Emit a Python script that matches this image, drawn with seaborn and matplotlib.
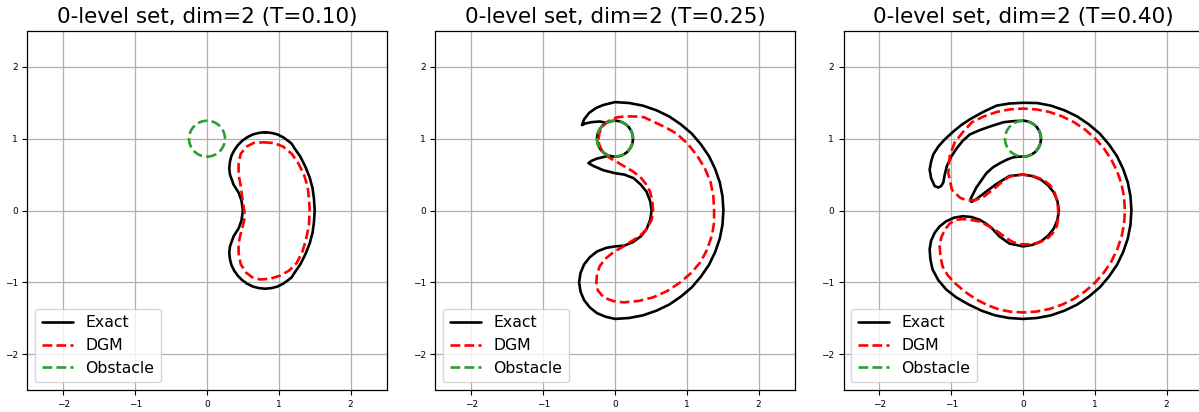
import numpy as np
import pandas as pd
import matplotlib
matplotlib.use("Agg")
import matplotlib.pyplot as plt
import seaborn as sns
from matplotlib.patches import Circle, Arc
from matplotlib.lines import Line2D

sns.set_style("ticks")
plt.rcParams["font.family"] = ["DejaVu Sans"]
plt.rcParams.update({"text.color": "black", "axes.labelcolor": "black",
                     "xtick.color": "black", "ytick.color": "black"})

times = [0.10, 0.25, 0.40]
obstacle_center = (0.0, 1.0)
obstacle_radius = 0.25
# part of the obstacle boundary that is also on the exact 0-level set (degrees)
exact_on_obstacle = [None, (0, 360), (-90, 90)]

# T=0.10 (closed curves)
exact_010_x = [0.81, 0.90, 0.98, 1.06, 1.13, 1.18, 1.21, 1.30, 1.37, 1.43, 1.47, 1.49,
               1.50, 1.49, 1.47, 1.43, 1.37, 1.30, 1.21, 1.18, 1.13, 1.06, 0.98, 0.90,
               0.81, 0.72, 0.64, 0.56, 0.49, 0.43, 0.38, 0.34, 0.32, 0.31, 0.32,
               0.37, 0.44, 0.48, 0.50, 0.48, 0.44, 0.37,
               0.32, 0.31, 0.32, 0.34, 0.38, 0.43, 0.49, 0.56, 0.64, 0.72]
exact_010_y = [1.09, 1.08, 1.06, 1.02, 0.97, 0.93, 0.88, 0.75, 0.61, 0.46, 0.31, 0.16,
               0.00, -0.16, -0.31, -0.46, -0.61, -0.75, -0.88, -0.93, -0.97, -1.02, -1.06, -1.08,
               -1.09, -1.08, -1.06, -1.02, -0.97, -0.91, -0.84, -0.76, -0.68, -0.59, -0.50,
               -0.36, -0.25, -0.14, 0.00, 0.14, 0.25, 0.36,
               0.50, 0.59, 0.68, 0.76, 0.84, 0.91, 0.97, 1.02, 1.06, 1.08]
dgm_010_x = [0.78, 0.93, 1.06, 1.18, 1.27, 1.35, 1.40, 1.42, 1.43, 1.42, 1.38, 1.33, 1.25,
             1.14, 1.01, 0.88, 0.74, 0.63, 0.55, 0.47, 0.44, 0.44, 0.46, 0.49, 0.52, 0.52,
             0.50, 0.47, 0.44, 0.44, 0.47, 0.55, 0.65]
dgm_010_y = [0.95, 0.94, 0.89, 0.79, 0.66, 0.50, 0.34, 0.17, 0.01, -0.20, -0.40, -0.57, -0.73,
             -0.84, -0.91, -0.95, -0.96, -0.93, -0.87, -0.75, -0.59, -0.47, -0.36, -0.25, -0.13, 0.00,
             0.11, 0.34, 0.50, 0.66, 0.79, 0.89, 0.94]

# T=0.25 (exact is open: it ends on the obstacle)
exact_025_x = [-0.12, -0.21, -0.33, -0.42, -0.46, -0.43, -0.36, -0.26, -0.16, 0.00,
               0.197, 0.39, 0.578, 0.755, 0.919, 1.07, 1.198, 1.31, 1.395, 1.46, 1.497, 1.51,
               1.497, 1.46, 1.395, 1.31, 1.198, 1.07, 0.919, 0.755, 0.578, 0.39, 0.197, 0.00,
               -0.13, -0.25, -0.35, -0.43, -0.48, -0.50, -0.48, -0.43, -0.35, -0.25, -0.12,
               0.00, 0.13, 0.25, 0.36, 0.44, 0.49, 0.51, 0.49, 0.44, 0.36, 0.26, 0.13, 0.00,
               -0.16, -0.30, -0.37, -0.33, -0.26, -0.14, -0.085]
exact_025_y = [1.22, 1.24, 1.23, 1.21, 1.19, 1.27, 1.36, 1.43, 1.47, 1.51,
               1.497, 1.46, 1.395, 1.31, 1.198, 1.07, 0.919, 0.755, 0.578, 0.39, 0.197, 0.00,
               -0.197, -0.39, -0.578, -0.755, -0.919, -1.07, -1.198, -1.31, -1.395, -1.46, -1.497, -1.51,
               -1.48, -1.43, -1.35, -1.25, -1.13, -1.00, -0.87, -0.75, -0.65, -0.57, -0.52,
               -0.50, -0.49, -0.44, -0.36, -0.26, -0.13, 0.00, 0.13, 0.26, 0.36, 0.45, 0.50, 0.52,
               0.56, 0.62, 0.66, 0.69, 0.72, 0.75, 0.765]
dgm_025_x = [-0.23, -0.22, -0.19, -0.13, -0.05, 0.04, 0.14, 0.27, 0.40, 0.53, 0.70, 0.86,
             1.01, 1.14, 1.25, 1.33, 1.37, 1.38, 1.38, 1.35, 1.28, 1.19, 1.06, 0.91, 0.73,
             0.53, 0.33, 0.12, -0.03, -0.16, -0.24, -0.26, -0.25, -0.21, -0.12, -0.02, 0.10,
             0.21, 0.34, 0.44, 0.51, 0.53, 0.52, 0.49, 0.43, 0.35, 0.24, 0.12, 0.02, -0.07,
             -0.14, -0.19, -0.22]
dgm_025_y = [0.99, 1.07, 1.15, 1.22, 1.27, 1.30, 1.31, 1.31, 1.30, 1.24, 1.16, 1.07,
             0.93, 0.77, 0.59, 0.40, 0.20, 0.00, -0.17, -0.35, -0.55, -0.72, -0.87, -1.00, -1.12,
             -1.21, -1.26, -1.28, -1.26, -1.21, -1.11, -1.00, -0.88, -0.77, -0.66, -0.58, -0.51,
             -0.44, -0.36, -0.26, -0.13, 0.00, 0.13, 0.26, 0.37, 0.47, 0.55, 0.62, 0.68, 0.73,
             0.79, 0.85, 0.92]

# T=0.40
exact_040_x = [0.00, -0.13, -0.27, -0.46, -0.60, -0.74, -0.84, -0.92, -1.00, -1.06, -1.09,
               -1.11, -1.14, -1.18, -1.23, -1.28, -1.30, -1.28, -1.25, -1.18, -1.09, -0.97,
               -0.86, -0.74, -0.56, -0.37, -0.19, 0.00,
               0.197, 0.39, 0.578, 0.755, 0.919, 1.07, 1.198, 1.31, 1.395, 1.46, 1.497, 1.51,
               1.497, 1.46, 1.395, 1.31, 1.198, 1.07, 0.919, 0.755, 0.578, 0.39, 0.197, 0.00,
               -0.197, -0.39, -0.578, -0.755,
               -0.93, -1.07, -1.18, -1.26, -1.29, -1.30, -1.28, -1.23, -1.16, -1.07, -0.96,
               -0.84, -0.72, -0.60, -0.52, -0.44, -0.33, -0.19,
               0.00, 0.13, 0.25, 0.35, 0.43, 0.48, 0.50, 0.48, 0.43, 0.35, 0.25, 0.13, 0.00,
               -0.19, -0.37, -0.53, -0.66, -0.72, -0.73, -0.70, -0.65, -0.58, -0.51, -0.42,
               -0.32, -0.22, -0.14, -0.06, 0.00]
exact_040_y = [1.25, 1.245, 1.23, 1.17, 1.12, 1.06, 0.97, 0.87, 0.75, 0.62, 0.50,
               0.39, 0.34, 0.32, 0.34, 0.45, 0.57, 0.68, 0.78, 0.89, 0.99, 1.10,
               1.19, 1.27, 1.37, 1.46, 1.49, 1.50,
               1.497, 1.46, 1.395, 1.31, 1.198, 1.07, 0.919, 0.755, 0.578, 0.39, 0.197, 0.00,
               -0.197, -0.39, -0.578, -0.755, -0.919, -1.07, -1.198, -1.31, -1.395, -1.46, -1.497, -1.51,
               -1.497, -1.46, -1.395, -1.31,
               -1.21, -1.10, -0.97, -0.82, -0.68, -0.54, -0.42, -0.31, -0.22, -0.15, -0.10,
               -0.08, -0.09, -0.13, -0.18, -0.24, -0.36, -0.46,
               -0.50, -0.48, -0.43, -0.35, -0.25, -0.13, 0.00, 0.13, 0.25, 0.35, 0.43, 0.48, 0.50,
               0.48, 0.37, 0.25, 0.15, 0.12, 0.16, 0.22, 0.32, 0.42, 0.52, 0.60,
               0.66, 0.71, 0.74, 0.75, 0.75]
dgm_040_x = [-0.74, -0.65, -0.55, -0.46, -0.37, -0.28, -0.19, -0.10, 0.00, 0.14, 0.28, 0.38,
             0.44, 0.48, 0.49, 0.49, 0.47, 0.41, 0.33, 0.21, 0.09, -0.03, -0.14, -0.24, -0.33,
             -0.42, -0.51, -0.62, -0.74, -0.84, -0.93, -1.02, -1.09, -1.14, -1.16, -1.15, -1.12,
             -1.05, -0.95, -0.81, -0.65, -0.49, -0.33, -0.17,
             0.00, 0.185, 0.368, 0.543, 0.71, 0.864, 1.004, 1.127, 1.23, 1.312, 1.372, 1.408,
             1.42, 1.408, 1.372, 1.312, 1.23, 1.127, 1.004, 0.864, 0.71, 0.543, 0.368, 0.185,
             0.00, -0.185, -0.368, -0.543, -0.71,
             -0.83, -0.95, -1.02, -1.04, -0.99, -0.88, -0.81]
dgm_040_y = [0.14, 0.15, 0.19, 0.26, 0.33, 0.41, 0.47, 0.49, 0.50, 0.48, 0.43, 0.35,
             0.25, 0.12, 0.00, -0.11, -0.22, -0.32, -0.40, -0.45, -0.47, -0.47, -0.44, -0.38, -0.31,
             -0.25, -0.20, -0.15, -0.13, -0.12, -0.13, -0.18, -0.27, -0.38, -0.50, -0.64, -0.78,
             -0.90, -1.01, -1.13, -1.24, -1.32, -1.38, -1.41,
             -1.42, -1.408, -1.372, -1.312, -1.23, -1.127, -1.004, -0.864, -0.71, -0.543, -0.368, -0.185,
             0.00, 0.185, 0.368, 0.543, 0.71, 0.864, 1.004, 1.127, 1.23, 1.312, 1.372, 1.408,
             1.42, 1.408, 1.372, 1.312, 1.23,
             1.10, 0.95, 0.76, 0.52, 0.29, 0.18, 0.15]

exact_x = [exact_010_x, exact_025_x, exact_040_x]
exact_y = [exact_010_y, exact_025_y, exact_040_y]
exact_closed = [True, False, False]
dgm_x = [dgm_010_x, dgm_025_x, dgm_040_x]
dgm_y = [dgm_010_y, dgm_025_y, dgm_040_y]

LW = 1.9


def curve_frame(xs, ys, closed):
    xs, ys = list(xs), list(ys)
    if closed:
        xs, ys = xs + xs[:1], ys + ys[:1]
    return pd.DataFrame({"x": xs, "y": ys})


fig = plt.figure(figsize=(11.99, 4.12), dpi=100)
lefts = [27 / 1199, 435 / 1199, 843 / 1199]
for k, T in enumerate(times):
    ax = fig.add_axes([lefts[k], 22 / 412, 360 / 1199, 359 / 412])

    line_kw = dict(sort=False, estimator=None, lw=LW, ax=ax)
    sns.lineplot(data=curve_frame(exact_x[k], exact_y[k], exact_closed[k]), x="x", y="y",
                 color="black", zorder=3, **line_kw)
    if exact_on_obstacle[k] is not None:
        a1, a2 = exact_on_obstacle[k]
        ax.add_patch(Arc(obstacle_center, 2 * obstacle_radius, 2 * obstacle_radius,
                         theta1=a1, theta2=a2, color="black", lw=LW, zorder=3))
    sns.lineplot(data=curve_frame(dgm_x[k], dgm_y[k], True), x="x", y="y",
                 color="red", ls="--", zorder=4, **line_kw)
    ax.add_patch(Circle(obstacle_center, obstacle_radius, fill=False, color="tab:green",
                        lw=LW, ls="--", zorder=5))

    ax.set_xlim(-2.5, 2.5)
    ax.set_ylim(-2.5, 2.5)
    ax.set_aspect("equal")
    ax.set_xticks([-2, -1, 0, 1, 2])
    ax.set_yticks([-2, -1, 0, 1, 2])
    ax.tick_params(labelsize=6.5, length=3.5, width=0.8)
    ax.grid(True, color="#b0b0b0", lw=0.9)
    ax.set_axisbelow(True)
    for s in ax.spines.values():
        s.set_visible(True)
        s.set_color("black")
        s.set_linewidth(0.9)
    ax.set_xlabel("")
    ax.set_ylabel("")
    ax.set_title(f"0-level set, dim=2 (T={T:.2f})", fontsize=15.5, color="black")

    handles = [Line2D([], [], color="black", lw=LW),
               Line2D([], [], color="red", lw=LW, ls="--"),
               Line2D([], [], color="tab:green", lw=LW, ls="--")]
    ax.legend(handles, ["Exact", "DGM", "Obstacle"], loc="lower left", fontsize=11.3)

fig.savefig("out.png", dpi=100)
